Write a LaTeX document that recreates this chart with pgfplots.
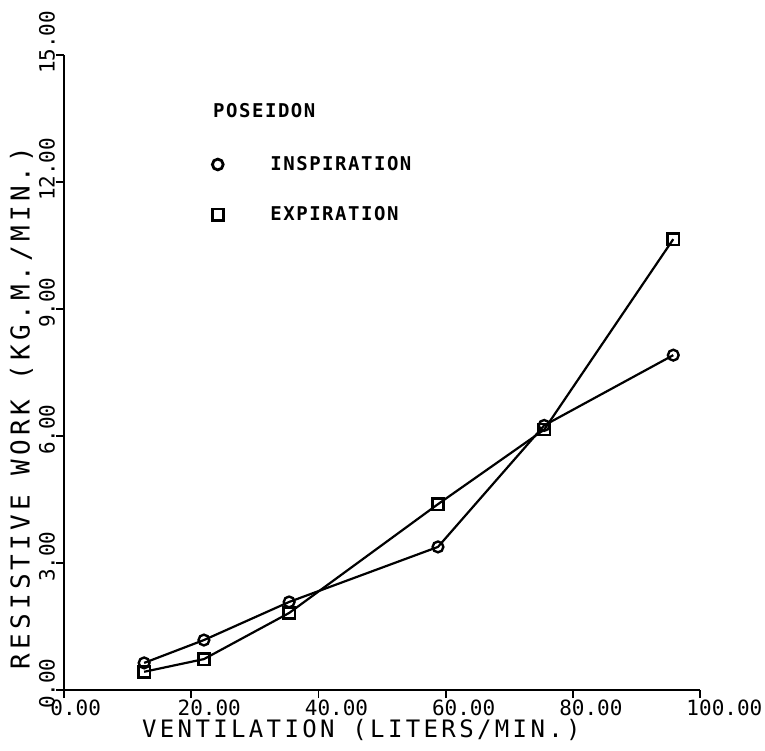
\documentclass[border=0pt]{standalone}
\usepackage{fontspec}
\usepackage{pgfplots}
\pgfplotsset{compat=1.18}
\newfontfamily\tickfont{DejaVu Sans Mono}
\newfontfamily\titlefont[LetterSpace=14]{DejaVu Sans Mono}
\newfontfamily\ytitlefont[LetterSpace=16]{DejaVu Sans Mono}
\newfontfamily\legfont[LetterSpace=8]{DejaVu Sans Mono}
\begin{document}
\begin{tikzpicture}
\begin{axis}[
  at={(0,0)}, anchor=south west,
  scale only axis, width=318pt, height=317.5pt,
  xmin=0, xmax=100, ymin=0, ymax=15,
  axis x line*=bottom, axis y line*=left,
  xtick={0,20,...,100}, ytick={0,3,...,15},
  tick align=outside, major tick length=4pt,
  every tick/.style={black, line width=0.9pt},
  axis line style={line width=0.9pt},
  /pgf/number format/fixed, /pgf/number format/fixed zerofill,
  /pgf/number format/precision=2, /pgf/number format/assume math mode=true,
  ticklabel style={font=\tickfont\fontsize{10.5}{12}\selectfont},
  xticklabel style={anchor=north west, xshift=-10.3pt, yshift=2.5pt},
  yticklabel style={rotate=90, anchor=south west, xshift=-13pt, yshift=-3pt},
  xlabel={VENTILATION (LITERS/MIN.)},
  ylabel={RESISTIVE WORK (KG.M./MIN.)},
  xlabel style={at={(ticklabel cs:0.119)}, anchor=north west, font=\titlefont\fontsize{12}{14}\selectfont, inner sep=1pt, yshift=3pt},
  ylabel style={at={(ticklabel cs:0.026,-2.5pt)}, anchor=south west, font=\ytitlefont\fontsize{13}{15}\selectfont, inner sep=2pt},
  legend style={at={(axis cs:23.3,12.71)}, anchor=north west, draw=none, fill=none,
    inner sep=0pt, outer sep=0pt, row sep=12.5pt, column sep=21.5pt,
    font=\legfont\bfseries\fontsize{9.5}{11}\selectfont},
  legend cell align=left,
]
\addplot[black, line width=1.1pt, mark=o, mark size=2.7pt, mark options={line width=1.2pt}, forget plot]
  coordinates {(12.6,0.64) (22.0,1.18) (35.4,2.08) (58.8,3.38) (75.5,6.25) (95.8,7.91)};
\addplot[black, line width=1.1pt, mark=square, mark size=2.8pt, mark options={line width=1.2pt}, forget plot]
  coordinates {(12.6,0.43) (22.0,0.73) (35.4,1.82) (58.8,4.39) (75.5,6.15) (95.8,10.65)};
\addlegendimage{only marks, black, mark=o, mark size=2.7pt, mark options={line width=1.4pt}}
\addlegendentry{INSPIRATION}
\addlegendimage{only marks, black, mark=square, mark size=2.8pt, mark options={line width=1.4pt}}
\addlegendentry{EXPIRATION}
\node[anchor=west, inner sep=0pt, font=\legfont\bfseries\fontsize{9.5}{11}\selectfont] at (axis cs:23.4,13.68) {POSEIDON};
\end{axis}
\pgfresetboundingbox
\path (-32pt,-30pt) rectangle (350.5pt,345pt);
\end{tikzpicture}
\end{document}
